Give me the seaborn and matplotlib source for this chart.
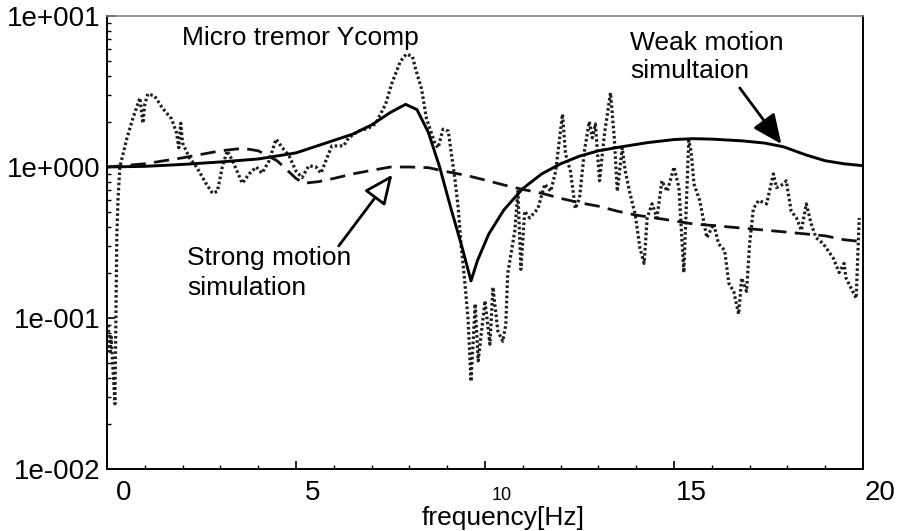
import numpy as np
import pandas as pd
import matplotlib
matplotlib.use("Agg")
import matplotlib.pyplot as plt
import matplotlib.ticker as mticker
from matplotlib.transforms import ScaledTranslation
import seaborn as sns

# ---------------- data ----------------
weak_f = [0, 1, 2, 3, 4, 5, 6, 6.5, 7, 7.5, 7.9, 8.2, 8.5, 8.8, 9.1, 9.4, 9.63,
          9.8, 10.1, 10.5, 11.0, 11.5, 12.0, 12.5, 13.0, 13.6, 14.3, 15.0, 15.5,
          16.0, 16.8, 17.4, 17.9, 18.5, 19.0, 19.5, 20.0]
weak_v = [1.0, 1.01, 1.04, 1.08, 1.13, 1.24, 1.5, 1.65, 1.9, 2.3, 2.6, 2.4, 1.7,
          1.0, 0.53, 0.29, 0.176, 0.24, 0.36, 0.52, 0.72, 0.9, 1.05, 1.18, 1.28,
          1.36, 1.45, 1.52, 1.54, 1.53, 1.49, 1.44, 1.36, 1.2, 1.1, 1.05, 1.02]

strong_f = [0, 1, 2, 3, 3.6, 4.0, 4.5, 5.0, 5.2, 5.6, 6.0, 6.5, 7.0, 7.5, 8.0,
            8.5, 9.0, 9.5, 10.0, 10.5, 11.0, 11.5, 12.0, 12.5, 13.0, 13.5, 14.0,
            14.5, 15.0, 15.5, 16.0, 16.5, 17.0, 17.5, 18.0, 18.5, 19.0, 19.5, 20.0]
strong_v = [1.0, 1.05, 1.15, 1.28, 1.33, 1.28, 1.1, 0.84, 0.78, 0.8, 0.84, 0.9,
            0.95, 1.0, 1.0, 0.99, 0.93, 0.88, 0.82, 0.76, 0.71, 0.67, 0.62, 0.58,
            0.55, 0.51, 0.48, 0.46, 0.44, 0.42, 0.41, 0.40, 0.39, 0.38, 0.37,
            0.36, 0.35, 0.33, 0.32]

micro_f = [0.03, 0.08, 0.11, 0.16, 0.21, 0.26, 0.29, 0.34, 0.53, 0.68, 0.87, 0.95,
           1.0, 1.08, 1.26, 1.47, 1.71, 1.84, 1.90, 1.95, 2.0, 2.18, 2.37, 2.63,
           2.79, 2.92, 3.05, 3.18, 3.32, 3.58, 3.76, 3.95, 4.1, 4.29, 4.47, 4.6,
           4.82, 5.0, 5.16, 5.34, 5.53, 5.66, 5.82, 5.95, 6.26, 6.39, 6.66, 6.92,
           7.1, 7.37, 7.53, 7.76, 7.92, 8.08, 8.16, 8.32, 8.45, 8.68, 8.76, 8.89,
           9.03, 9.1, 9.2, 9.29, 9.37, 9.45, 9.55, 9.63, 9.74, 9.82, 10.0, 10.13,
           10.21, 10.34, 10.47, 10.55, 10.6, 10.79, 10.87, 10.95, 11.05, 11.18,
           11.4, 11.58, 11.74, 11.87, 12.05, 12.13, 12.26, 12.39, 12.5, 12.63,
           12.76, 12.84, 12.92, 13.03, 13.16, 13.32, 13.42, 13.5, 13.63, 13.71,
           13.84, 13.97, 14.1, 14.21, 14.29, 14.42, 14.55, 14.68, 14.82, 15.0,
           15.13, 15.26, 15.39, 15.45, 15.53, 15.68, 15.87, 16.05, 16.18, 16.34,
           16.45, 16.58, 16.71, 16.79, 16.92, 17.0, 17.1, 17.24, 17.45, 17.63,
           17.71, 17.89, 17.97, 18.1, 18.24, 18.37, 18.5, 18.63, 18.76, 18.95,
           19.21, 19.37, 19.5, 19.55, 19.82, 19.9]
micro_v = [0.09, 0.06, 0.075, 0.045, 0.027, 0.35, 0.6, 1.0, 1.56, 2.08, 2.87, 1.95,
           2.6, 3.05, 2.95, 2.45, 2.08, 1.68, 1.34, 1.95, 1.44, 1.15, 1.0, 0.77,
           0.67, 0.69, 1.0, 1.28, 1.1, 0.78, 0.9, 1.0, 0.91, 1.1, 1.53, 1.38,
           1.18, 0.94, 0.85, 1.02, 1.0, 0.91, 1.15, 1.38, 1.38, 1.56, 1.73, 1.81,
           1.93, 2.6, 3.55, 5.0, 5.6, 5.4, 4.5, 3.3, 2.1, 1.42, 1.34, 1.78,
           1.73, 1.28, 0.85, 0.54, 0.3, 0.19, 0.1, 0.038, 0.124, 0.052, 0.13, 0.067,
           0.16, 0.082, 0.07, 0.09, 0.196, 0.38, 0.69, 0.21, 0.51, 0.46,
           0.53, 0.77, 0.69, 0.94, 2.24, 1.22, 0.94, 0.53, 0.62, 1.28,
           2.0, 1.56, 1.93, 0.81, 1.65, 3.1, 1.56, 0.69, 1.34, 0.94,
           0.66, 0.49, 0.29, 0.23, 0.46, 0.57, 0.46, 0.81, 0.69, 1.0,
           0.73, 0.2, 1.5, 1.28, 0.77, 0.6, 0.34, 0.42, 0.31, 0.28,
           0.17, 0.15, 0.106, 0.184, 0.15, 0.31, 0.53, 0.6, 0.57, 0.9,
           0.73, 0.77, 0.81, 0.51, 0.46, 0.38, 0.57, 0.42, 0.34, 0.31,
           0.25, 0.2, 0.23, 0.184, 0.135, 0.46]

x_tick_vals = [0, 5, 10, 15, 20]
x_tick_labels = ["0", "5", "10", "15", "20"]
y_tick_vals = [0.01, 0.1, 1, 10]

# ---------------- style ----------------
sns.set_theme(style="ticks")
plt.rcParams["font.family"] = ["Liberation Sans", "DejaVu Sans"]
plt.rcParams["text.color"] = "black"
plt.rcParams["axes.labelcolor"] = "black"
plt.rcParams["xtick.color"] = "black"
plt.rcParams["ytick.color"] = "black"

fig = plt.figure(figsize=(8.98, 5.31), dpi=100)
ax = fig.add_axes([107 / 898, 1 - 469 / 531, 756 / 898, 453 / 531])

df_micro = pd.DataFrame({"f": micro_f, "v": micro_v})
df_weak = pd.DataFrame({"f": weak_f, "v": weak_v})
df_strong = pd.DataFrame({"f": strong_f, "v": strong_v})

sns.lineplot(data=df_micro, x="f", y="v", ax=ax, color="#1e1e1e", lw=2.3,
             linestyle=(0, (0.8, 0.8)), estimator=None, sort=False)
sns.lineplot(data=df_weak, x="f", y="v", ax=ax, color="black", lw=2.1,
             estimator=None, sort=False)
sns.lineplot(data=df_strong, x="f", y="v", ax=ax, color="#111111", lw=2.0,
             linestyle=(0, (5.5, 3.0)), estimator=None, sort=False)

ax.set_yscale("log")
ax.set_xlim(0, 20)
ax.set_ylim(0.01, 10)

ax.yaxis.set_major_locator(mticker.FixedLocator(y_tick_vals))
ax.yaxis.set_minor_locator(mticker.LogLocator(base=10, subs=np.arange(2, 10)))
ax.yaxis.set_minor_formatter(mticker.NullFormatter())


def yfmt(v, pos):
    e = int(round(np.log10(v)))
    return "1e{:+04d}".format(e)


ax.yaxis.set_major_formatter(mticker.FuncFormatter(yfmt))

ax.xaxis.set_major_locator(mticker.FixedLocator(x_tick_vals))
ax.xaxis.set_minor_locator(mticker.MultipleLocator(1))
ax.set_xticklabels([])

ax.tick_params(axis="both", which="major", direction="in", length=6, width=1.2,
               color="black", labelsize=20, pad=5, labelcolor="black")
ax.tick_params(axis="both", which="minor", direction="in", length=3, width=1.0,
               color="black")
ax.tick_params(top=False, right=False, which="both")

# x tick labels, placed slightly right of their ticks as in the reference
off = ScaledTranslation(17 / 100, 0, fig.dpi_scale_trans)
for val, txt in zip(x_tick_vals, x_tick_labels):
    small = txt == "10"
    ax.text(val, -0.068, txt,
            transform=ax.get_xaxis_transform() + off,
            ha="center", va="baseline", fontsize=13 if small else 20,
            color="black")

ax.set_xlabel("frequency[Hz]", fontsize=19, color="black", va="center")
ax.xaxis.set_label_coords((503 - 107) / 756, -(518 - 469) / 453)
ax.set_ylabel("")

for side in ["left", "bottom", "right"]:
    ax.spines[side].set_color("black")
    ax.spines[side].set_linewidth(1.4)
ax.spines["top"].set_color("#808080")
ax.spines["top"].set_linewidth(1.2)
ax.grid(False)

# annotations
ax.text((182 - 107) / 756, (469 - 38) / 453, "Micro tremor Ycomp",
        transform=ax.transAxes, fontsize=19, ha="left", va="center",
        color="black")
ax.text((630 - 107) / 756, (469 - 57) / 453, "Weak motion\nsimultaion",
        transform=ax.transAxes, fontsize=19, ha="left", va="center",
        linespacing=1.2, color="black")
ax.text((187 - 107) / 756, (469 - 273) / 453, "Strong motion\nsimulation",
        transform=ax.transAxes, fontsize=19, ha="left", va="center",
        linespacing=1.3, color="black")

ax.annotate("", xy=(17.84, 1.42), xytext=(16.74, 3.34),
            arrowprops=dict(arrowstyle="-|>,head_length=0.9,head_width=0.4",
                            lw=2.0, color="black", shrinkA=0, shrinkB=0,
                            mutation_scale=20))
ax.annotate("", xy=(7.55, 0.89), xytext=(6.13, 0.30),
            arrowprops=dict(arrowstyle="-|>,head_length=0.9,head_width=0.4",
                            lw=2.0, fc="white", ec="black", shrinkA=0,
                            shrinkB=0, mutation_scale=20))

fig.savefig("out.png", dpi=100)
